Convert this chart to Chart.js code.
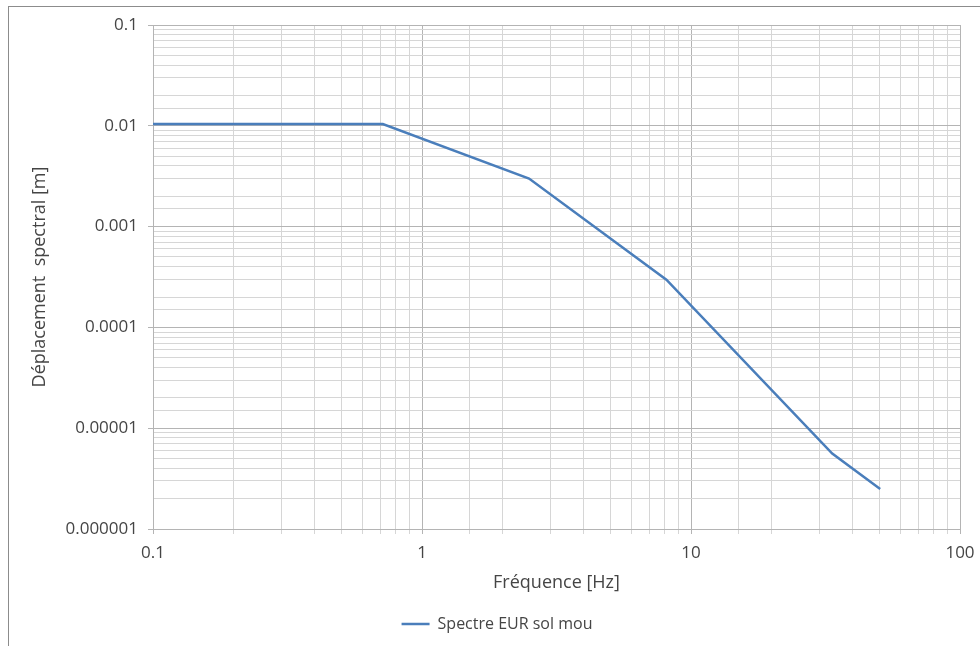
<!DOCTYPE html>
<html>
<head>
<meta charset="utf-8">
<script src="https://cdn.jsdelivr.net/npm/chart.js@4/dist/chart.umd.min.js"></script>
<style>
  body { margin: 0; background: #fff; }
  #wrap { position: absolute; left: 0; top: 0; width: 980px; height: 646px; }
  #frame { position: absolute; left: 8px; top: 6px; width: 1000px; height: 1000px;
           border-left: 1px solid #8c8c8c; border-top: 1px solid #8c8c8c; pointer-events: none; }
</style>
</head>
<body>
<div id="wrap"><canvas id="chart" width="980" height="646"></canvas></div>
<div id="frame"></div>
<script>
// DONNEES
const frequences = [0.1, 0.715, 2.5, 8.1, 33.5, 50.5];
const deplacements = [0.0104, 0.0104, 0.003, 0.000297, 0.0000056, 0.0000025];
const serieNom = "Spectre EUR sol mou";
const xTickLabels = ["0.1", "1", "10", "100"];
const yTickLabels = ["0.000001", "0.00001", "0.0001", "0.001", "0.01", "0.1"];

function isDecade(v) {
    const l = Math.log10(v);
    return Math.abs(l - Math.round(l)) < 1e-6;
}

const points = frequences.map((f, i) => ({ x: f, y: deplacements[i] }));

const gridColor = ctx => (ctx.tick && isDecade(ctx.tick.value)) ? "#b4b4b4" : "#d6d6d6";
const textColor = "#454545";

// petit décalage de la légende vers la droite
const legendShift = {
    id: "legendShift",
    afterLayout(chart) {
        chart.legend.left += 6;
        chart.legend.right += 6;
    }
};

new Chart(document.getElementById("chart"), {
    type: "line",
    data: {
        datasets: [{
            label: serieNom,
            data: points,
            borderColor: "#4a7ebb",
            backgroundColor: "#4a7ebb",
            borderWidth: 2.5,
            pointRadius: 0,
            tension: 0
        }]
    },
    options: {
        responsive: false,
        animation: false,
        layout: { padding: { left: 22, right: 20, top: 25, bottom: 4 } },
        plugins: {
            legend: {
                position: "bottom",
                labels: {
                    usePointStyle: true,
                    pointStyle: "line",
                    pointStyleWidth: 28,
                    boxWidth: 28,
                    padding: 10,
                    color: textColor,
                    font: { family: "Open Sans", size: 16 }
                }
            },
            tooltip: { enabled: false }
        },
        scales: {
            x: {
                type: "logarithmic",
                min: 0.1,
                max: 100,
                afterFit: s => { s.height = 77; },
                border: { color: "#b4b4b4" },
                grid: { color: gridColor, tickColor: gridColor, tickLength: 5 },
                ticks: {
                    autoSkip: false,
                    maxRotation: 0,
                    padding: 5,
                    color: textColor,
                    font: { family: "Open Sans", size: 17, lineHeight: 1.65 },
                    callback: v => isDecade(v) ? xTickLabels[Math.round(Math.log10(v)) + 1] : ""
                },
                title: {
                    display: true,
                    text: "Fréquence [Hz]",
                    color: textColor,
                    font: { family: "Open Sans", size: 18 },
                    padding: { top: 4, bottom: 12 }
                }
            },
            y: {
                type: "logarithmic",
                min: 0.000001,
                max: 0.1,
                afterFit: s => { s.width = 131; },
                border: { color: "#b4b4b4" },
                grid: {
                    color: gridColor,
                    tickColor: ctx => (ctx.tick && isDecade(ctx.tick.value)) ? "#b4b4b4" : "rgba(0,0,0,0)",
                    tickLength: 5
                },
                ticks: {
                    autoSkip: false,
                    padding: 10,
                    color: textColor,
                    font: { family: "Open Sans", size: 17 },
                    callback: v => isDecade(v) ? yTickLabels[Math.round(Math.log10(v)) + 6] : ""
                },
                title: {
                    display: true,
                    text: "Déplacement  spectral [m]",
                    color: textColor,
                    font: { family: "Open Sans", size: 18 },
                    padding: { top: 7, bottom: 4 }
                }
            }
        }
    },
    plugins: [legendShift]
});
</script>
</body>
</html>
